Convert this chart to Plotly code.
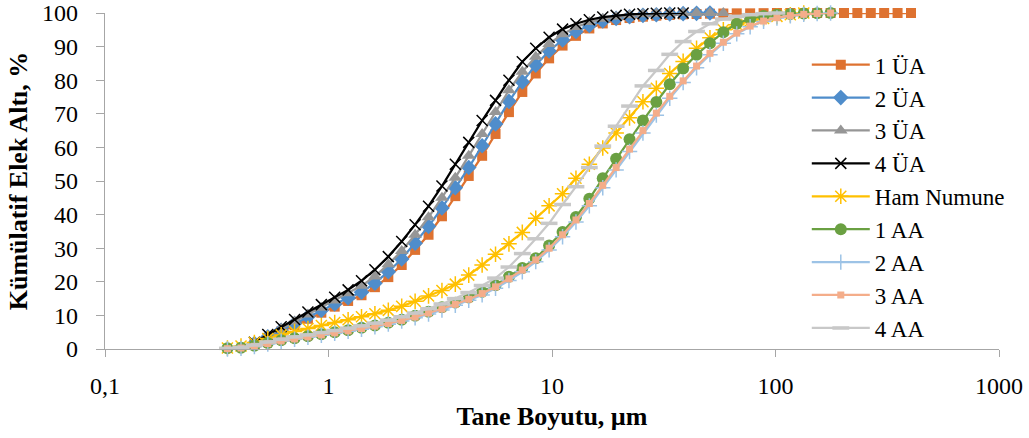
import plotly.graph_objects as go

# Particle size grid (µm)
size_um = [0.353, 0.406, 0.466, 0.535, 0.614, 0.705, 0.809, 0.929, 1.066, 1.224,
           1.405, 1.613, 1.852, 2.126, 2.441, 2.803, 3.218, 3.693, 4.241, 4.869,
           5.589, 6.418, 7.365, 8.458, 9.707, 11.15, 12.80, 14.69, 16.87, 19.36,
           22.23, 25.52, 29.30, 33.64, 38.62, 44.34, 50.90, 58.43, 67.08, 77.01,
           88.44, 101.5, 116.5, 133.8, 153.6, 176.4, 202.5, 232.4, 266.9, 306.3,
           351.7, 403.8]

names = ["1 ÜA", "2 ÜA", "3 ÜA", "4 ÜA", "Ham Numune", "1 AA", "2 AA", "3 AA", "4 AA"]
start_index = [2, 2, 2, 2, 0, 0, 0, 0, 0]

ua1 = [1.4, 3.3, 5.2, 7.1, 9.0, 10.8, 12.6, 14.3, 16.0, 18.4,
       21.4, 25.0, 29.5, 34.0, 39.5, 45.5, 51.5, 57.5, 64.0, 70.5,
       76.5, 82.0, 86.5, 90.3, 93.2, 95.4, 96.9, 97.9, 98.5, 98.9,
       99.2, 99.4, 99.6, 99.7, 99.8, 99.85, 99.9, 99.9, 99.95,
       100, 100, 100, 100, 100, 100, 100, 100, 100, 100, 100]
ua2 = [1.6, 3.6, 5.6, 7.6, 9.6, 11.5, 13.4, 15.2, 16.9, 19.6,
       23.0, 26.8, 31.5, 36.5, 42.0, 48.0, 54.0, 60.5, 67.0, 73.7,
       79.5, 84.5, 88.7, 92.0, 94.5, 96.3, 97.6, 98.4, 98.9, 99.3,
       99.5, 99.7, 99.8, 99.9, 100]
ua3 = [1.8, 3.9, 6.0, 8.2, 10.3, 12.3, 14.4, 16.6, 18.8, 21.6,
       25.2, 29.2, 34.0, 39.2, 45.0, 51.0, 57.5, 64.0, 70.5, 77.0,
       82.5, 87.0, 90.8, 93.7, 95.8, 97.3, 98.3, 98.9, 99.3, 99.6,
       99.8, 99.9, 100, 100, 100, 100]
ua4 = [2.0, 4.3, 6.6, 8.8, 11.0, 13.2, 15.4, 17.6, 20.3, 23.6,
       27.5, 32.0, 37.0, 42.5, 48.5, 55.0, 61.5, 68.0, 74.0, 80.0,
       85.5, 89.5, 92.8, 95.2, 96.8, 98.0, 98.8, 99.3, 99.6, 99.8,
       99.9, 100, 100]
ham = [0.3, 0.9, 1.9, 3.1, 4.2, 5.2, 6.1, 7.0, 7.9, 8.7,
       9.6, 10.5, 11.5, 12.7, 14.2, 15.8, 17.4, 19.3, 22.0, 25.0,
       28.2, 31.3, 34.7, 38.9, 42.6, 46.2, 50.8, 55.0, 59.8, 64.3,
       68.8, 73.6, 77.6, 82.0, 85.6, 89.5, 92.6, 95.0, 96.5, 97.6,
       98.4, 99.0, 99.5, 100]
aa1 = [0.2, 0.4, 1.0, 1.8, 2.6, 3.2, 3.8, 4.4, 5.0, 5.6,
       6.3, 7.0, 7.8, 8.7, 9.9, 11.1, 12.4, 13.8, 15.3, 17.0,
       19.0, 21.5, 24.1, 27.0, 30.8, 34.8, 39.3, 44.7, 50.8, 56.6,
       62.4, 68.0, 73.5, 78.8, 83.5, 87.6, 91.0, 94.3, 96.8, 98.3,
       99.1, 99.5, 99.7, 99.85, 99.95, 100]
aa2 = [0.0, 0.2, 0.7, 1.5, 2.3, 2.9, 3.5, 4.1, 4.7, 5.3,
       5.9, 6.6, 7.4, 8.3, 9.3, 10.4, 11.6, 13.0, 14.5, 16.1,
       18.1, 20.4, 23.0, 26.0, 29.5, 33.4, 37.8, 42.6, 48.0, 53.3,
       58.8, 64.3, 69.6, 74.6, 79.3, 83.7, 87.6, 91.0, 93.8, 95.9,
       97.5, 98.5, 99.2, 99.6, 99.85, 100]
aa3 = [0.1, 0.3, 0.8, 1.6, 2.4, 3.0, 3.6, 4.2, 4.8, 5.4,
       6.1, 6.8, 7.6, 8.5, 9.5, 10.7, 11.9, 13.3, 14.8, 16.5,
       18.5, 20.9, 23.5, 26.5, 30.0, 34.0, 38.4, 43.3, 48.7, 54.0,
       59.5, 65.0, 70.2, 75.2, 79.8, 84.2, 88.0, 91.3, 94.0, 96.1,
       97.6, 98.6, 99.2, 99.6, 99.85, 100]
aa4 = [0.2, 0.5, 1.2, 2.1, 2.9, 3.6, 4.2, 4.9, 5.5, 6.2,
       6.9, 7.7, 8.6, 9.6, 10.7, 12.0, 13.4, 15.0, 16.8, 18.9,
       21.1, 24.4, 28.4, 32.8, 37.4, 43.0, 48.3, 54.0, 60.4, 66.3,
       72.3, 78.3, 82.9, 87.7, 91.5, 94.5, 96.8, 98.2, 99.0, 99.5,
       99.8, 100]

values = [ua1, ua2, ua3, ua4, ham, aa1, aa2, aa3, aa4]

colors = ["#DE7230", "#4F8DCB", "#969696", "#000000", "#FFC000",
          "#6AA042", "#9DC3E6", "#F4AD8A", "#C8C8C8"]
markers = [
    dict(symbol="square", size=10),
    dict(symbol="diamond", size=12),
    dict(symbol="triangle-up", size=12),
    dict(symbol="x-thin", size=11, line=dict(width=1.5, color="#000000")),
    dict(symbol="asterisk", size=13, line=dict(width=1.5, color="#FFC000")),
    dict(symbol="circle", size=12),
    dict(symbol="cross-thin", size=11, line=dict(width=1.5, color="#9DC3E6")),
    dict(symbol="square", size=7),
    dict(symbol="line-ew", size=12, line=dict(width=3.5, color="#C8C8C8")),
]

fig = go.Figure()
for i, (nm, vals) in enumerate(zip(names, values)):
    s = start_index[i]
    mk = dict(markers[i])
    mk["color"] = colors[i]
    fig.add_trace(go.Scatter(
        x=size_um[s:s + len(vals)], y=vals, name=nm, mode="lines+markers",
        line=dict(color=colors[i], width=2.25), marker=mk,
        cliponaxis=False, legendgroup=nm,
    ))

axis_col = "#A6A6A6"
fig.update_layout(
    width=1029, height=438,
    margin=dict(l=105, r=30, t=13, b=89, autoexpand=False),
    paper_bgcolor="white", plot_bgcolor="white",
    font=dict(family="Liberation Serif", size=24, color="black"),
    showlegend=True,
    legend=dict(x=0.785, y=0.91, xanchor="left", yanchor="top",
                bgcolor="rgba(0,0,0,0)", font=dict(size=23),
                itemwidth=58, tracegroupgap=0),
    xaxis=dict(type="log", range=[-1, 3], automargin=False,
               tickvals=[0.1, 1, 10, 100, 1000],
               ticktext=["0,1", "1", "10", "100", "1000"],
               ticklabeloverflow="allow",
               ticks="outside", ticklen=7, tickcolor=axis_col, tickwidth=1.3,
               showline=True, linecolor=axis_col, linewidth=1.3,
               showgrid=False, zeroline=False, ticklabelstandoff=8,
               title=dict(text="<b>Tane Boyutu, µm</b>", font=dict(size=26), standoff=8)),
    yaxis=dict(range=[0, 100], dtick=10, automargin=False,
               ticklabeloverflow="allow",
               ticks="outside", ticklen=8, tickcolor=axis_col, tickwidth=1.3,
               showline=True, linecolor=axis_col, linewidth=1.3,
               showgrid=False, zeroline=False, ticklabelstandoff=13,
               title=dict(text="<b>Kümülatif Elek Altı, %</b>", font=dict(size=26), standoff=6)),
)

fig.write_html("out.html", config={"displayModeBar": False},
               post_script="document.body.style.margin='0';document.body.style.overflow='hidden';")
